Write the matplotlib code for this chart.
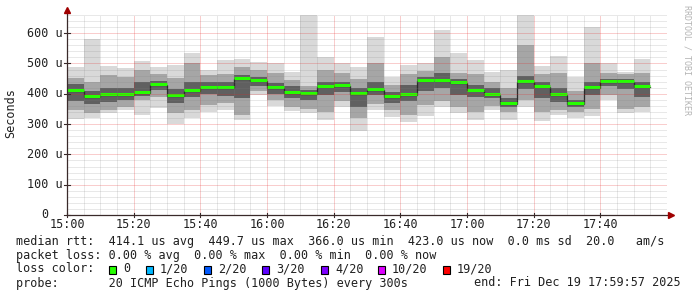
import numpy as np
import matplotlib
matplotlib.use('Agg')
import matplotlib.pyplot as plt
from matplotlib.patches import Rectangle
from matplotlib.transforms import blended_transform_factory

# ping smoke per 5 minute slot (microseconds), slots start at 15:00
slot_min = list(range(0, 175, 5))
rtt_min = [316, 321, 338, 347, 330, 354, 299, 319, 341, 347, 314, 396, 360, 344, 337, 314, 358, 278,
           347, 325, 308, 327, 358, 336, 314, 347, 314, 358, 311, 330, 319, 327, 380, 336, 341]
rtt_p10 = [345, 335, 348, 356, 378, 390, 335, 348, 362, 368, 330, 410, 378, 358, 350, 340, 375, 320,
           365, 345, 330, 362, 375, 355, 340, 360, 340, 380, 340, 345, 340, 350, 395, 350, 355]
rtt_p25 = [375, 365, 372, 378, 392, 412, 368, 388, 398, 392, 385, 425, 400, 385, 378, 395, 405, 355,
           395, 370, 375, 410, 420, 395, 390, 385, 355, 415, 385, 372, 356, 395, 425, 415, 390]
rtt_med = [410, 389, 396, 396, 404, 429, 393, 410, 419, 419, 449, 442, 418, 402, 400, 424, 426, 400,
           413, 389, 397, 443, 443, 435, 411, 395, 366, 440, 422, 397, 366, 418, 438, 438, 422]
rtt_p75 = [432, 410, 418, 420, 440, 442, 415, 440, 438, 440, 462, 455, 435, 425, 412, 440, 440, 418,
           440, 405, 430, 455, 470, 448, 430, 420, 385, 460, 440, 420, 380, 440, 448, 450, 440]
rtt_p90 = [452, 440, 462, 455, 478, 466, 452, 500, 462, 466, 488, 478, 470, 445, 425, 480, 470, 450,
           500, 430, 465, 475, 520, 470, 465, 440, 420, 560, 465, 470, 410, 500, 470, 465, 470]
rtt_max = [490, 581, 493, 484, 509, 490, 495, 536, 479, 512, 515, 504, 501, 471, 660, 523, 501, 490,
           589, 457, 495, 501, 609, 536, 512, 473, 479, 660, 492, 525, 457, 620, 501, 473, 514]

ytick_vals = [0, 100, 200, 300, 400, 500, 600]
ytick_text = ['0', '100 u', '200 u', '300 u', '400 u', '500 u', '600 u']
xtick_vals = [0, 20, 40, 60, 80, 100, 120, 140, 160]
xtick_text = ['15:00', '15:20', '15:40', '16:00', '16:20', '16:40', '17:00', '17:20', '17:40']

loss_labels = ['0', '1/20', '2/20', '3/20', '4/20', '10/20', '19/20']
loss_colors = ['#26ff00', '#00b8ff', '#0059ff', '#5e00ff', '#7e00ff', '#dd00ff', '#ff0000']
loss_box_x = [108.7, 145.7, 204, 261.7, 320.7, 377.7, 442.7]

W, H = 697, 297
MONO = 'DejaVu Sans Mono'
FS = 8.5
TXT = '#202020'

fig = plt.figure(figsize=(W / 100, H / 100), dpi=100)
fig.patch.set_facecolor('white')
ax = fig.add_axes([67 / W, (H - 215) / H, 600 / W, 200 / H])
ax.set_xlim(0, 180)
ax.set_ylim(0, 660)
for s in ax.spines.values():
    s.set_visible(False)
ax.set_xticks([])
ax.set_yticks([])

x = np.array(slot_min)
bands = [(rtt_min, rtt_max, '#d9d9d9'),
         (rtt_p10, rtt_p90, '#a6a6a6'),
         (rtt_p25, rtt_p75, '#606060')]
for b_lo, b_hi, col in bands:
    b_lo = np.array(b_lo)
    b_hi = np.array(b_hi)
    ax.bar(x, b_hi - b_lo, bottom=b_lo, width=5, align='edge', color=col, linewidth=0, zorder=1)

med = np.array(rtt_med)
edges = np.append(x, x[-1] + 5)
ax.step(edges, np.append(med, med[-1]), where='post', color='#1a1a1a', lw=0.9, zorder=2)
ax.hlines(med + 3, x, x + 5, color=loss_colors[0], lw=2.2, zorder=3)

# grid (drawn over the data like rrdtool)
minor_col = (0.5, 0.5, 0.5, 0.35)
major_col = (0.9, 0.15, 0.15, 0.45)
dots = (0, (1, 1))
for v in range(20, 661, 20):
    if v % 100:
        ax.axhline(v, color=minor_col, lw=0.72, ls=dots, zorder=4)
for v in range(5, 181, 5):
    if v % 20:
        ax.axvline(v, color=minor_col, lw=0.72, ls=dots, zorder=4)
for v in ytick_vals[1:]:
    ax.axhline(v, color=major_col, lw=0.72, ls=dots, zorder=4)
for v in xtick_vals[1:] + [180]:
    ax.axvline(v, color=major_col, lw=0.72, ls=dots, zorder=4)

# axes with arrows
axis_col = '#3a2a2a'
ax.plot([0, 1.008], [0, 0], color=axis_col, lw=0.9, transform=ax.transAxes, clip_on=False, zorder=5)
ax.plot([0, 0], [0, 1.03], color=axis_col, lw=0.9, transform=ax.transAxes, clip_on=False, zorder=5)
ax.plot([1.006], [0], marker='>', ms=4, color='#a00000', transform=ax.transAxes, clip_on=False, zorder=6)
ax.plot([0], [1.025], marker='^', ms=4, color='#a00000', transform=ax.transAxes, clip_on=False, zorder=6)

# tick marks
ty_ax = blended_transform_factory(ax.transAxes, ax.transData)
for v in ytick_vals:
    ax.plot([-0.005, 0.005], [v, v], color=axis_col, lw=0.8, transform=ty_ax, clip_on=False, zorder=5)
for v in xtick_vals:
    ax.plot([v, v], [-8, 8], color=axis_col, lw=0.8, clip_on=False, zorder=5)

# tick labels
ty = blended_transform_factory(fig.transFigure, ax.transData)
for v, t in zip(ytick_vals, ytick_text):
    ax.text(45 / W, v, t, transform=ty, ha='center', va='center', family=MONO, fontsize=FS, color=TXT)
tx = blended_transform_factory(ax.transData, fig.transFigure)
for v, t in zip(xtick_vals, xtick_text):
    ax.text(v, (H - 224.5) / H, t, transform=tx, ha='center', va='center', family=MONO, fontsize=FS,
            color=TXT)

fig.text(11 / W, (H - 113.5) / H, 'Seconds', rotation=90, ha='center', va='center', family=MONO,
         fontsize=FS, color=TXT)
fig.text(687 / W, (H - 60) / H, 'RRDTOOL / TOBI OETIKER', rotation=270, ha='center', va='center',
         family=MONO, fontsize=6, color='#b4b4b4')

# legend block
lines = [
    'median rtt:  414.1 us avg  449.7 us max  366.0 us min  423.0 us now  0.0 ms sd  20.0   am/s',
    'packet loss: 0.00 % avg  0.00 % max  0.00 % min  0.00 % now',
    'loss color:',
    'probe:       20 ICMP Echo Pings (1000 Bytes) every 300s',
]
for i, t in enumerate(lines):
    fig.text(16 / W, (H - (241 + 14 * i)) / H, t, ha='left', va='center', family=MONO, fontsize=FS,
             color=TXT)
fig.text(681 / W, (H - 283) / H, 'end: Fri Dec 19 17:59:57 2025', ha='right', va='center', family=MONO,
         fontsize=FS, color=TXT)
for bx, lab, col in zip(loss_box_x, loss_labels, loss_colors):
    fig.add_artist(Rectangle((bx / W, (H - 273.5) / H), 7 / W, 8 / H, transform=fig.transFigure,
                             facecolor=col, edgecolor='black', lw=0.8))
    fig.text((bx + 14.3) / W, (H - 269) / H, lab, ha='left', va='center', family=MONO, fontsize=FS,
             color=TXT)

fig.savefig('out.png', dpi=100, facecolor='white')
